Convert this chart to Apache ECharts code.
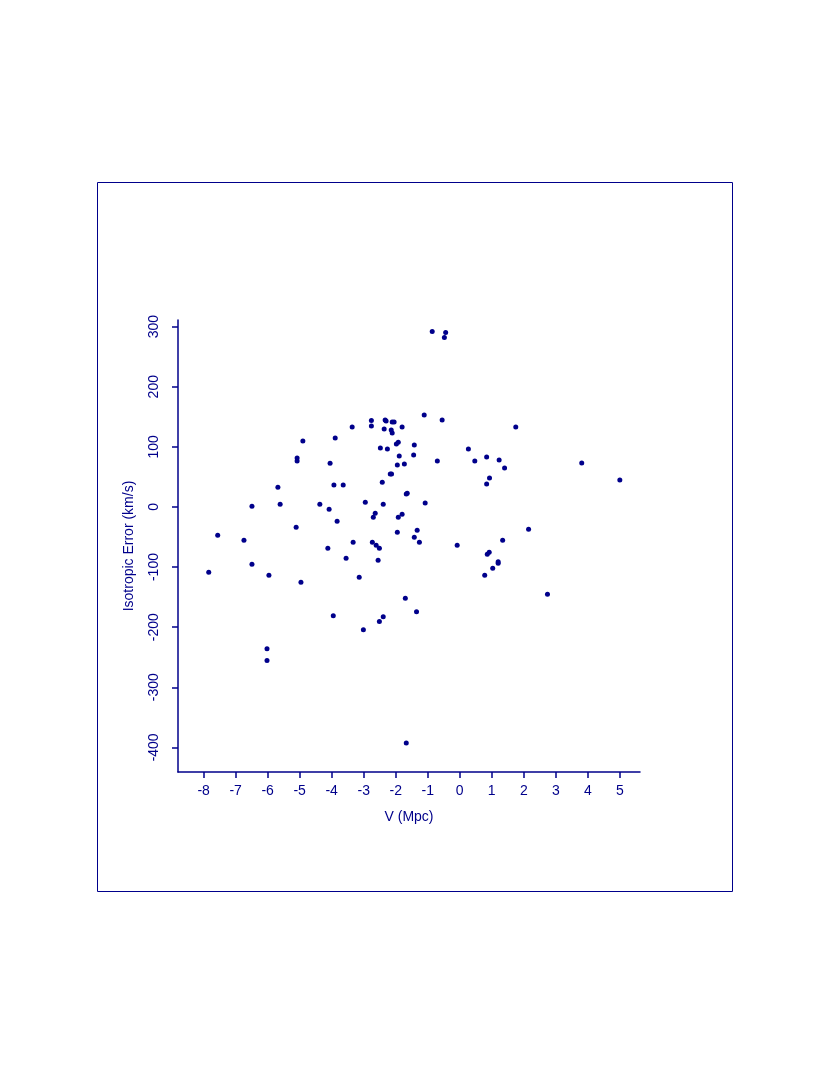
<!DOCTYPE html>
<html>
<head>
    <meta charset="utf-8">
    <title>Isotropic Error vs V</title>
    <script src="https://cdn.jsdelivr.net/npm/echarts@6/dist/echarts.min.js"></script>
    <style>
        html, body { margin: 0; padding: 0; background: #fff; }
        #main { width: 830px; height: 1075px; }
    </style>
</head>
<body>
<div id="main"></div>
<script>
    // V (Mpc) and isotropic error (km/s)
    var vMpc = [
        -2.76, -2.76, -2.33, -2.30, -2.11, -2.05, -1.80, -2.36, -2.14, -2.11,
        -3.36, -3.89, -4.90, -2.48, -2.26, -1.98, -1.92, -1.42, -1.44, -1.89,
        -1.95, -1.73, -5.08, -5.08, -4.05, -2.17, -2.13, -2.42, -5.68, -3.93,
        -3.64, -1.67, -1.64, -6.49, -5.61, -4.37, -4.08, -2.95, -2.39, -2.64,
        -2.70, -1.80, -1.92, -3.83, -5.11, -1.95, -1.42, -7.56, -6.74, -3.33,
        -2.73, -2.61, -2.51, -4.12, -6.49, -7.84, -5.96, -4.96, -3.55, -2.55,
        -3.14, -1.70, -3.95, -2.39, -2.51, -3.01, -6.02, -6.02, -1.67, -1.35,
        -1.33, -1.26, -0.08, 2.15, 1.34, 0.92, 0.86, 1.20, 1.20, 1.03,
        0.78, 2.74, -0.86, -0.44, -0.48, -1.11, -0.55, 1.75, -0.70, 0.27,
        0.47, 0.84, 1.23, 1.40, 0.93, 0.84, 3.81, 5.00, -1.08
    ];
    var isoErr = [
        143.6, 134.8, 144.8, 143.1, 141.4, 141.4, 133.1, 129.8, 128.1, 123.1,
        133.1, 114.8, 109.8, 98.2, 96.5, 104.8, 107.7, 103.2, 86.5, 84.9,
        69.9, 71.5, 81.5, 76.5, 72.7, 54.9, 54.9, 41.1, 32.8, 36.6,
        36.6, 21.6, 22.8, 1.2, 4.5, 4.5, -3.8, 7.8, 4.5, -10.5,
        -17.1, -12.1, -17.1, -23.8, -33.8, -42.1, -50.4, -47.1, -55.4, -58.7,
        -58.7, -63.7, -68.7, -68.7, -95.3, -108.7, -113.6, -125.3, -85.4, -88.7,
        -117.0, -151.9, -180.9, -182.5, -190.8, -204.2, -235.8, -255.7, -392.7, -174.2,
        -38.8, -58.7, -63.7, -37.1, -55.4, -75.4, -78.7, -91.0, -93.7, -102.0,
        -113.6, -145.3, 291.7, 290.0, 281.7, 153.1, 144.8, 133.1, 76.5, 96.5,
        76.5, 83.2, 78.2, 64.9, 48.3, 38.3, 73.2, 44.9, 6.7
    ];
    var xTicks = [-8, -7, -6, -5, -4, -3, -2, -1, 0, 1, 2, 3, 4, 5];
    var yTicks = [-400, -300, -200, -100, 0, 100, 200, 300];

    var navy = '#00008b';
    var points = vMpc.map(function (v, i) { return [v, isoErr[i]]; });

    var myChart = echarts.init(document.getElementById('main'));
    var option = {
        backgroundColor: '#fff',
        animation: false,
        textStyle: { fontFamily: 'Liberation Sans, Arial, sans-serif' },
        graphic: [{
            type: 'rect',
            shape: { x: 97.5, y: 182.5, width: 635, height: 709 },
            style: { fill: 'none', stroke: navy, lineWidth: 1 },
            silent: true
        }],
        grid: { left: 178, top: 320, width: 462, height: 452 },
        xAxis: {
            type: 'value',
            min: -8.8,
            max: 5.63,
            name: 'V (Mpc)',
            nameLocation: 'middle',
            nameGap: 38,
            nameTextStyle: { color: navy, fontSize: 14 },
            axisLine: { onZero: false, lineStyle: { color: navy, width: 1.5 } },
            axisTick: { show: true, length: 6, customValues: xTicks, lineStyle: { color: navy, width: 1.5 } },
            axisLabel: { customValues: xTicks, color: navy, fontSize: 14, margin: 12 },
            splitLine: { show: false }
        },
        yAxis: {
            type: 'value',
            min: -441,
            max: 311,
            name: 'Isotropic Error (km/s)',
            nameLocation: 'middle',
            nameGap: 42,
            nameRotate: 90,
            nameTextStyle: { color: navy, fontSize: 14 },
            axisLine: { onZero: false, lineStyle: { color: navy, width: 1.5 } },
            axisTick: { show: true, length: 6, customValues: yTicks, lineStyle: { color: navy, width: 1.5 } },
            axisLabel: { customValues: yTicks, color: navy, fontSize: 14, rotate: 90, margin: 17 },
            splitLine: { show: false }
        },
        series: [{
            type: 'scatter',
            data: points,
            symbol: 'circle',
            symbolSize: 5,
            itemStyle: { color: navy, opacity: 1 }
        }]
    };
    myChart.setOption(option);
</script>
</body>
</html>
